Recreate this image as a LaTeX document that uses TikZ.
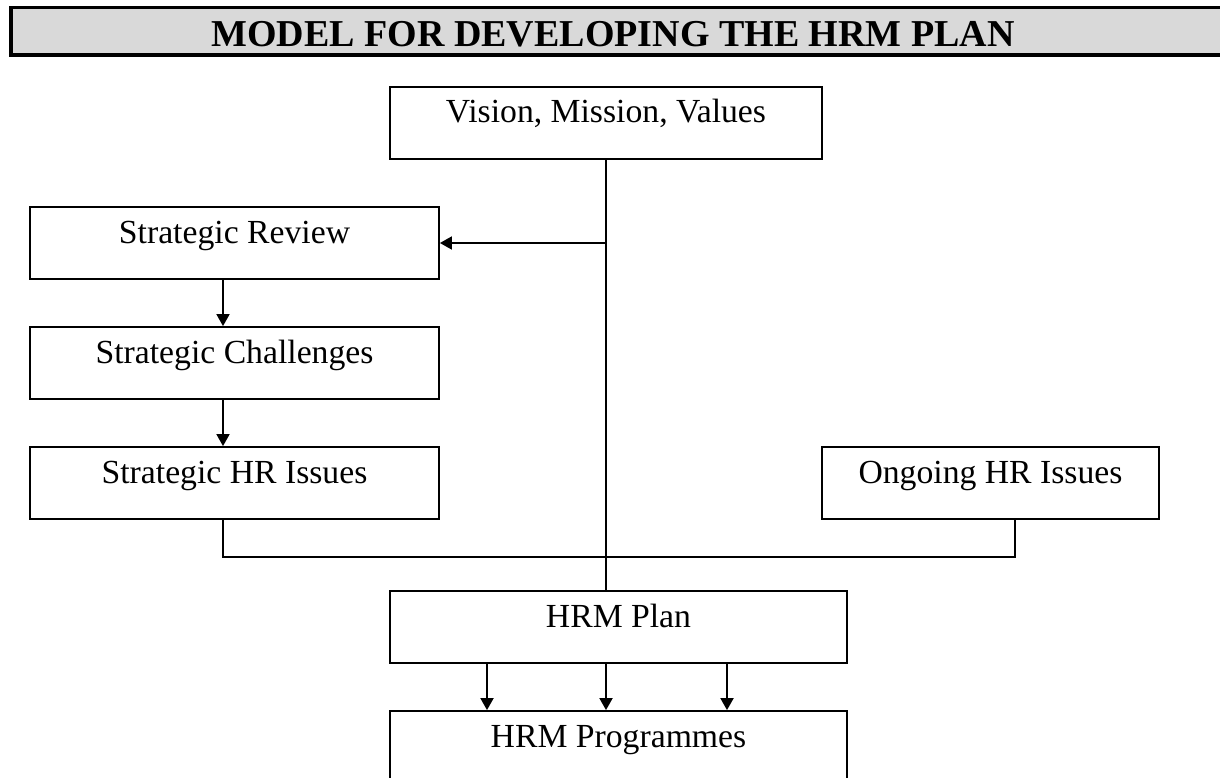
\documentclass[tikz,border=0pt]{standalone}
\usepackage{fontspec}
\setmainfont{Liberation Serif}
\usetikzlibrary{arrows.meta}
\definecolor{titlegray}{RGB}{217,217,217}
\begin{document}
\begin{tikzpicture}[x=1pt,y=-1pt,
  box/.style={draw, line width=1.8pt, inner sep=0pt, text height=36pt, text depth=36pt,
              font=\fontsize{33.7}{40}\selectfont},
  conn/.style={line width=1.8pt},
  arr/.style={conn, -{Triangle[length=12pt,width=13pt]}},
  titlebar/.style={draw, line width=3.3pt, fill=titlegray, inner sep=0pt}]
\useasboundingbox (0,0) rectangle (1220,778);
% title
\node[titlebar, minimum width=1224pt, minimum height=47.5pt] (bar) at (623,31.25) {};
\node[anchor=base, inner sep=0pt, font=\bfseries\fontsize{38}{44}\selectfont] (title) at (613,47) {MODEL FOR DEVELOPING THE HRM PLAN};
% boxes
\node[box, minimum width=432pt] (vision) at (606,123) {Vision, Mission, Values};
\node[box, minimum width=409pt] (sr) at (234.5,243) {Strategic Review};
\node[box, minimum width=409pt] (sc) at (234.5,363) {Strategic Challenges};
\node[box, minimum width=409pt] (shri) at (234.5,483) {Strategic HR Issues};
\node[box, minimum width=337pt] (ongoing) at (990.5,483) {Ongoing HR Issues};
\node[box, minimum width=457pt] (plan) at (618.5,627) {HRM Plan};
\node[box, minimum width=457pt] (prog) at (618.5,747) {HRM Programmes};
% helper coordinates
\coordinate (ax) at (223,0);
\coordinate (ox) at (1015,0);
\coordinate (hy) at (0,557);
\coordinate (pl) at (487,0);
\coordinate (pr) at (727,0);
% connectors
\draw[conn] (vision.south) -- (vision.south |- plan.north);
\draw[arr] (vision.south |- sr.east) -- (sr.east);
\draw[arr] (sr.south -| ax) -- (sc.north -| ax);
\draw[arr] (sc.south -| ax) -- (shri.north -| ax);
\draw[conn] (shri.south -| ax) -- (ax |- hy) -- (ox |- hy) -- (ongoing.south -| ox);
\draw[arr] (plan.south -| pl) -- (prog.north -| pl);
\draw[arr] (plan.south -| vision.south) -- (prog.north -| vision.south);
\draw[arr] (plan.south -| pr) -- (prog.north -| pr);
\end{tikzpicture}
\end{document}
